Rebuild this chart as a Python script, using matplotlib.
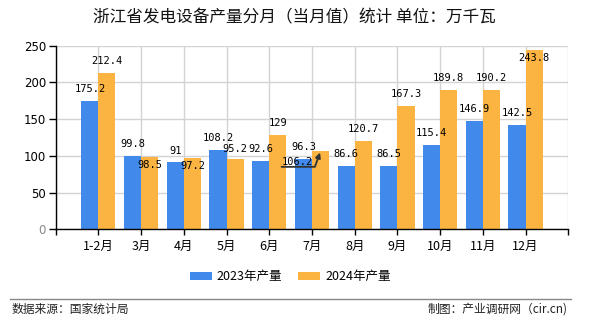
import matplotlib
matplotlib.use('Agg')
import matplotlib.pyplot as plt
import numpy as np

plt.rcParams['font.family'] = ['Noto Sans CJK SC', 'DejaVu Sans']

# --- dados ---
meses = ['1-2月', '3月', '4月', '5月', '6月', '7月', '8月', '9月', '10月', '11月', '12月']
producao_2023 = [175.2, 99.8, 91, 108.2, 92.6, 96.3, 86.6, 86.5, 115.4, 146.9, 142.5]
producao_2024 = [212.4, 98.5, 97.2, 95.2, 129, 106.2, 120.7, 167.3, 189.8, 190.2, 243.8]
rotulos_2023 = ['175.2', '99.8', '91', '108.2', '92.6', '96.3', '86.6', '86.5', '115.4', '146.9', '142.5']
rotulos_2024 = ['212.4', '98.5', '97.2', '95.2', '129', '106.2', '120.7', '167.3', '189.8', '190.2', '243.8']

# deslocamento vertical dos rótulos (pontos); None = rótulo com seta
desloc_2023 = [8.6] * 11
desloc_2024 = [8.6, -5.8, -5.8, 7.2, 8.6, None, 8.6, 8.6, 8.6, 8.6, -5.8]

cor_2023 = '#418AEB'
cor_2024 = '#FBB341'

fig = plt.figure(figsize=(5.9, 3.3), dpi=100)
ax = fig.add_axes([0.0944, 0.3052, 0.8688, 0.5563])

x = np.arange(len(meses))
largura = 0.4
b1 = ax.bar(x - largura / 2, producao_2023, largura, color=cor_2023, label='2023年产量', zorder=2)
b2 = ax.bar(x + largura / 2, producao_2024, largura, color=cor_2024, label='2024年产量', zorder=2)

fonte_rotulo = dict(family='DejaVu Sans Mono', fontsize=7.5, color='black')
for xi, v, txt, dy in zip(x - largura / 2, producao_2023, rotulos_2023, desloc_2023):
    ax.annotate(txt, (xi, v), xytext=(0, dy), textcoords='offset points',
                ha='center', va='center', zorder=4, **fonte_rotulo)
for xi, v, txt, dy in zip(x + largura / 2, producao_2024, rotulos_2024, desloc_2024):
    if dy is None:
        ax.annotate(txt, (xi, v), xytext=(-16.8, -11.2), textcoords='offset points',
                    ha='center', va='bottom', zorder=4,
                    arrowprops=dict(arrowstyle='-|>', color='#333333', lw=1.3,
                                    shrinkA=0, shrinkB=1, relpos=(0, 0), patchA=None,
                                    connectionstyle='angle,angleA=0,angleB=70,rad=0'),
                    **fonte_rotulo)
    else:
        ax.annotate(txt, (xi, v), xytext=(0, dy), textcoords='offset points',
                    ha='center', va='center', zorder=4, **fonte_rotulo)

# eixos
ax.set_xlim(-1, 11)
ax.set_ylim(0, 250)
ax.set_yticks(np.arange(0, 251, 50))
ax.set_xticks(np.arange(-1, 12))
ax.set_xticklabels([''] + meses + [''])
ax.tick_params(axis='x', length=4, width=1, labelsize=9, pad=4)
ax.tick_params(axis='y', length=5, width=1, labelsize=8.5, pad=2)
for lbl in ax.get_yticklabels():
    lbl.set_family('DejaVu Sans')
ax.get_yticklabels()[0].set_color('#888888')
ax.grid(True, color='#d3d3d3', lw=1, zorder=0)
ax.set_axisbelow(True)
for s in ['top', 'right']:
    ax.spines[s].set_visible(False)
ax.spines['left'].set_linewidth(1)
ax.spines['bottom'].set_linewidth(1)

# título
fig.text(0.499, 0.945, '浙江省发电设备产量分月（当月值）统计 单位：万千瓦',
         ha='center', va='center', fontsize=12, color='#111111')

# legenda
fig.legend(handles=[b1, b2], loc='center', bbox_to_anchor=(0.492, 0.161), ncol=2,
           frameon=False, fontsize=9, handlelength=1.75, handleheight=0.7,
           handletextpad=0.4, columnspacing=1.3)

# rodapé
fig.add_artist(plt.Line2D([10 / 590, 571 / 590], [1 - 299 / 330] * 2, color='#888888', lw=1))
fig.text(12 / 590, 1 - 309 / 330, '数据来源：国家统计局', ha='left', va='center', fontsize=8.5, color='#222222')
fig.text(568 / 590, 1 - 309 / 330, '制图：产业调研网（cir.cn)', ha='right', va='center', fontsize=8.5, color='#222222')

fig.savefig('out.png', dpi=100)
